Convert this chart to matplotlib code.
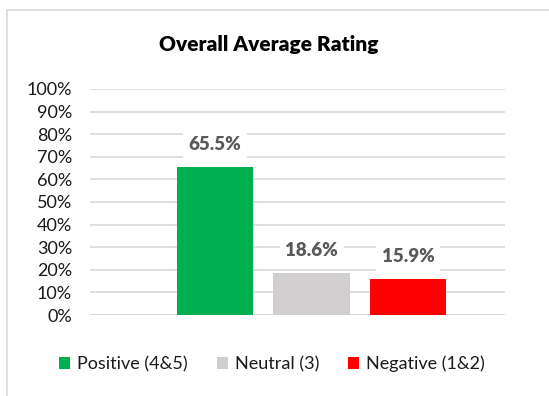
import matplotlib.pyplot as plt
from matplotlib.patches import Rectangle

plt.rcParams['font.family'] = ['Lato', 'DejaVu Sans']

series = ["Positive (4&5)", "Neutral (3)", "Negative (1&2)"]
values = [65.5, 18.6, 15.9]
colors = ["#00b050", "#d0cece", "#ff0000"]
yticks = list(range(0, 101, 10))

fig = plt.figure(figsize=(5.49, 3.96), dpi=100)
ax = fig.add_axes([90/549, 1 - 315/396, 415/549, 226/396])

# chart border
fig.patches.append(Rectangle((7/549, -0.1), 1.2, 1 - 10/396 + 0.1, transform=fig.transFigure,
                             fill=False, edgecolor="#d9d9d9", linewidth=1.2))

xs = list(range(len(series)))
bars = ax.bar(xs, values, width=0.79, color=colors, zorder=3)
for b, v in zip(bars, values):
    ax.annotate(f"{v:.1f}%", (b.get_x() + b.get_width() / 2, v), xytext=(0, 16),
                textcoords="offset points", ha="center", va="center",
                fontsize=13.5, fontweight="heavy", color="#595959", zorder=4,
                bbox=dict(boxstyle="square,pad=0.3", fc="white", ec="none"))

ax.set_xlim(-1.29, 3.0)
ax.set_ylim(0, 100)
ax.set_yticks(yticks)
ax.set_yticklabels([f"{t}%" for t in yticks], fontsize=13, color="#1a1a1a")
ax.set_xticks([])
ax.grid(axis="y", color="#d9d9d9", linewidth=1.2, zorder=0)
for s in ax.spines.values():
    s.set_visible(False)
ax.tick_params(axis="y", length=0, pad=13)
ax.axhline(0, color="#d9d9d9", linewidth=1.2, zorder=1)

fig.text(269/549, 1 - 45/396, "Overall Average Rating", ha="center", va="center",
         fontsize=15, fontweight="heavy", color="black")

fig.legend(bars, series, loc="center", bbox_to_anchor=(272/549, 1 - 364/396), ncol=3,
           frameon=False, fontsize=13, handlelength=0.6, handleheight=0.6,
           handletextpad=0.4, columnspacing=1.6, labelcolor="#1a1a1a")

fig.savefig("out.png", dpi=100)
